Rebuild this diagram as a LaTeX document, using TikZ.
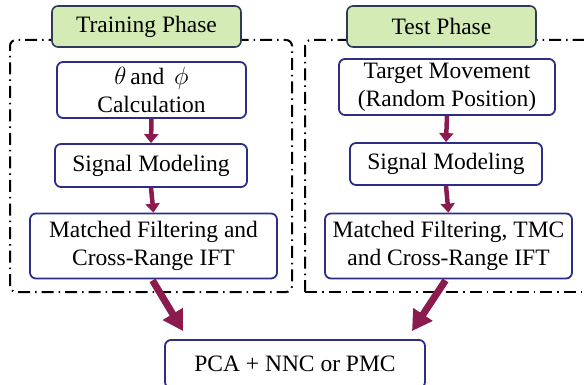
\documentclass[tikz,border=0pt]{standalone}
\usepackage{fontspec}
\setmainfont{Liberation Serif}
\usetikzlibrary{arrows.meta,calc}
\definecolor{boxblue}{HTML}{2B2D87}
\definecolor{labelborder}{HTML}{2F3A5A}
\definecolor{labelfill}{HTML}{D5EBB5}
\definecolor{arrowred}{HTML}{8B1A4F}
\begin{document}
\begin{tikzpicture}[x=1pt,y=-1pt,
  every node/.style={font=\fontsize{23.5}{28}\selectfont, align=center, inner sep=0pt},
  procbox/.style={draw=boxblue, line width=1.8pt, rounded corners=6pt, fill=white},
  phaselabel/.style={draw=labelborder, line width=1.6pt, rounded corners=6pt, fill=labelfill,
    minimum width=189pt, minimum height=41pt},
  frameline/.style={line width=2pt, dash pattern=on 12pt off 5pt on 1.5pt off 5pt, rounded corners=6pt},
  smallarrow/.style={draw=arrowred, line width=4.5pt, -{Triangle[width=14pt,length=9pt]}},
  bigarrow/.style={draw=arrowred, line width=7pt, -{Triangle[width=22pt,length=20pt]}}
]
\useasboundingbox (0,0) rectangle (584,385);
% frames
\draw[frameline] (10,292) -- (10,40) -- (292,40) -- (292,292) -- cycle;
\draw[frameline] (305,292) -- (305,40) -- (600,40);
\draw[frameline] (305,292) -- (600,292);
% phase labels
\node[phaselabel] (trainlabel) at (146.5,26.5) {Training Phase};
\node[phaselabel] (testlabel) at (441.5,26.5) {Test Phase};
% left column
\node[procbox, minimum width=189pt, minimum height=56pt] (calc) at (151.5,90) {$\theta$\,and\, $\phi$\\Calculation};
\node[procbox, minimum width=192pt, minimum height=43pt] (sigL) at (151,165.5) {Signal Modeling};
\node[procbox, minimum width=247pt, minimum height=65pt] (mfL) at (153.5,246) {Matched Filtering and\\Cross-Range IFT};
% right column
\node[procbox, minimum width=216pt, minimum height=56pt] (target) at (447,87) {Target Movement\\(Random Position)};
\node[procbox, minimum width=192pt, minimum height=42pt] (sigR) at (446,164) {Signal Modeling};
\node[procbox, minimum width=247pt, minimum height=65pt] (mfR) at (448.5,246) {Matched Filtering, TMC\\and Cross-Range IFT};
% bottom
\node[procbox, minimum width=260pt, minimum height=48pt] (pca) at (295,364) {PCA + NNC or PMC};
% arrows
\draw[smallarrow] (calc.south) -- (sigL.north);
\draw[smallarrow] (sigL.south) -- (mfL.north);
\draw[smallarrow] (target.south) -- (sigR.north);
\draw[smallarrow] (sigR.south) -- (mfR.north);
\coordinate (tipL) at ($(pca.north)+(-112,-8)$);
\coordinate (tipR) at ($(pca.north)+(117,-8)$);
\draw[bigarrow] ($(mfL.south)+(-1,1)$) -- (tipL);
\draw[bigarrow] ($(mfR.south)+(-3,1)$) -- (tipR);
\end{tikzpicture}
\end{document}
